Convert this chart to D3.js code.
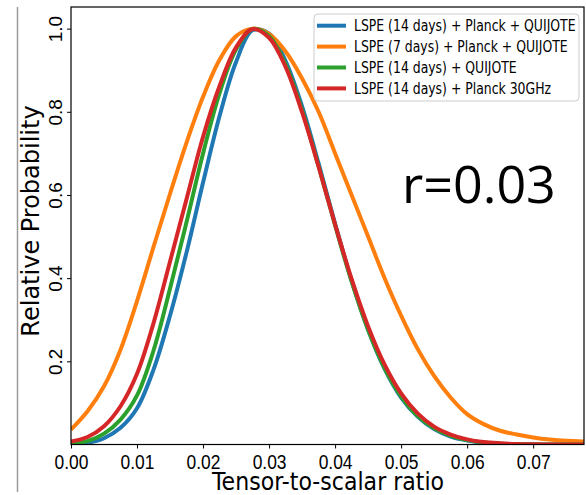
<!DOCTYPE html>
<html>
<head>
<meta charset="utf-8">
<script src="https://cdn.jsdelivr.net/npm/d3@7"></script>
<style>
  body { margin: 0; background: white; }
  svg { display: block; }
</style>
</head>
<body>
<div id="chart"></div>
<script>

// tensor-to-scalar ratio grid (x values)
var rGrid = [0, 0.0025, 0.005, 0.0075, 0.01, 0.0125, 0.015, 0.0175, 0.02, 0.0225, 0.025, 0.0275,
  0.03, 0.0325, 0.035, 0.0375, 0.04, 0.0425, 0.045, 0.0475, 0.05, 0.0525, 0.055, 0.0575,
  0.06, 0.0625, 0.065, 0.0675, 0.07, 0.0725, 0.075, 0.0775, 0.08]

// relative probability
var lspe14PlanckQuijote = [0.001, 0.004, 0.015, 0.040, 0.087, 0.180, 0.310, 0.462, 0.630, 0.790, 0.920, 0.996,
  0.988, 0.922, 0.813, 0.676, 0.531, 0.394, 0.276, 0.182, 0.113, 0.067, 0.037, 0.019,
  0.0096, 0.004, 0.0017, 0.0006, 0.0002, 0, 0, 0, 0]
var lspe7PlanckQuijote = [0.036, 0.080, 0.140, 0.228, 0.345, 0.475, 0.603, 0.726, 0.836, 0.925, 0.982, 1.0,
  0.987, 0.945, 0.880, 0.800, 0.700, 0.600, 0.500, 0.400, 0.310, 0.230, 0.165, 0.113,
  0.073, 0.049, 0.033, 0.024, 0.017, 0.012, 0.009, 0.0075, 0.007]
var lspe14Quijote = [0.002, 0.008, 0.026, 0.060, 0.118, 0.226, 0.375, 0.535, 0.700, 0.845, 0.950, 0.999,
  0.982, 0.914, 0.804, 0.669, 0.527, 0.392, 0.276, 0.184, 0.116, 0.069, 0.039, 0.021,
  0.0105, 0.005, 0.002, 0.0008, 0.0003, 0.0001, 0, 0, 0]
var lspe14Planck30 = [0.007, 0.018, 0.044, 0.092, 0.170, 0.292, 0.440, 0.590, 0.740, 0.862, 0.955, 0.999,
  0.978, 0.908, 0.799, 0.668, 0.529, 0.398, 0.284, 0.192, 0.123, 0.075, 0.043, 0.024,
  0.0124, 0.006, 0.003, 0.0012, 0.0005, 0.0002, 0, 0, 0]

var seriesNames = ["LSPE (14 days) + Planck + QUIJOTE", "LSPE (7 days) + Planck + QUIJOTE",
  "LSPE (14 days) + QUIJOTE", "LSPE (14 days) + Planck 30GHz"]
var seriesValues = [lspe14PlanckQuijote, lspe7PlanckQuijote, lspe14Quijote, lspe14Planck30]
var seriesColors = ["#1f77b4", "#ff7f0e", "#2ca02c", "#d62728"]

var xTicks = [0, 0.01, 0.02, 0.03, 0.04, 0.05, 0.06, 0.07]
var yTicks = [0.2, 0.4, 0.6, 0.8, 1.0]

var width = 586, height = 495
var mLeft = 71, mRight = 584, mTop = 7, mBottom = 444.5

var svg = d3.select("#chart").append("svg")
  .attr("width", width)
  .attr("height", height)
  .style("font-family", "'DejaVu Sans', sans-serif")

var x = d3.scaleLinear().domain([0, 0.0777]).range([mLeft, mRight])
var y = d3.scaleLinear().domain([0, 1.052]).range([mBottom, mTop])

// grey rule at the far left
svg.append("line")
  .attr("x1", 17.5).attr("x2", 17.5)
  .attr("y1", 7).attr("y2", 492)
  .attr("stroke", "#9a9a9a")
  .attr("stroke-width", 1.5)

svg.append("clipPath").attr("id", "clip")
  .append("rect")
  .attr("x", mLeft).attr("y", mTop)
  .attr("width", mRight - mLeft).attr("height", mBottom - mTop)

var line = d3.line()
  .x(function(d, i) { return x(rGrid[i]) })
  .y(function(d) { return y(d) })
  .curve(d3.curveCatmullRom)

svg.append("g").attr("clip-path", "url(#clip)")
  .selectAll("path")
  .data(seriesValues)
  .enter().append("path")
  .attr("d", function(d) { return line(d) })
  .attr("fill", "none")
  .attr("stroke", function(d, i) { return seriesColors[i] })
  .attr("stroke-width", 4)
  .attr("stroke-linejoin", "round")

// frame
svg.append("rect")
  .attr("x", mLeft).attr("y", mTop)
  .attr("width", mRight - mLeft).attr("height", mBottom - mTop)
  .attr("fill", "none")
  .attr("stroke", "black")
  .attr("stroke-width", 1.2)

// x axis
var xAxis = svg.append("g")
  .attr("transform", "translate(0," + mBottom + ")")
  .call(d3.axisBottom(x).tickValues(xTicks).tickFormat(d3.format(".2f")).tickSize(4).tickPadding(6))
xAxis.select(".domain").remove()
xAxis.selectAll("text")
  .attr("font-size", null)
  .style("font-size", "20px")
  .attr("fill", "black")
  .attr("transform", "scale(0.87,1)")

// y axis
var yAxis = svg.append("g")
  .attr("transform", "translate(" + mLeft + ",0)")
  .call(d3.axisLeft(y).tickValues(yTicks).tickFormat(d3.format(".1f")).tickSize(4))
yAxis.select(".domain").remove()
yAxis.selectAll("text")
  .style("font-size", "19px")
  .attr("fill", "black")
  .attr("x", null).attr("dy", null)
  .attr("text-anchor", "middle")
  .attr("transform", "translate(-9,0) rotate(-90)")

svg.append("text")
  .attr("transform", "translate(39,221) rotate(-90)")
  .attr("text-anchor", "middle")
  .style("font-size", "24px")
  .text("Relative Probability")

svg.append("text")
  .attr("transform", "translate(328,490) scale(0.92,1)")
  .attr("text-anchor", "middle")
  .style("font-size", "24px")
  .text("Tensor-to-scalar ratio")

// legend
var legend = svg.append("g")
legend.append("rect")
  .attr("x", 314).attr("y", 14)
  .attr("width", 265).attr("height", 87)
  .attr("rx", 4)
  .attr("fill", "white")
  .attr("fill-opacity", 0.8)
  .attr("stroke", "#cccccc")

var item = legend.selectAll(".item")
  .data(seriesNames)
  .enter().append("g")
  .attr("class", "item")
  .attr("transform", function(d, i) { return "translate(317," + (25.7 + i * 20.9) + ")" })

item.append("line")
  .attr("x1", 0).attr("x2", 29)
  .attr("stroke", function(d, i) { return seriesColors[i] })
  .attr("stroke-width", 4)

item.append("text")
  .attr("transform", "translate(37,5.5) scale(0.83,1)")
  .style("font-size", "15px")
  .text(function(d) { return d })

// annotation
svg.append("text")
  .attr("x", 402).attr("y", 203)
  .style("font-family", "'Open Sans', sans-serif")
  .style("font-size", "52px")
  .text("r=0.03")

</script>
</body>
</html>
